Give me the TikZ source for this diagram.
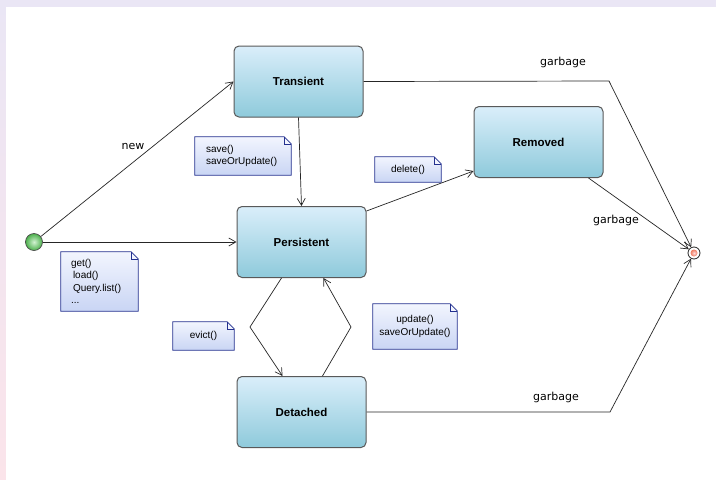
\documentclass[tikz,border=0pt]{standalone}
\usepackage{fontspec}
\setmainfont{Liberation Sans}
\newfontfamily\lblfont{DejaVu Sans}
\usepackage{tikz}
\usetikzlibrary{arrows.meta,positioning,backgrounds}

\definecolor{bgTop}{HTML}{EAE6F5}
\definecolor{bgBot}{HTML}{FBE4EA}
\definecolor{stTop}{HTML}{DAEEFA}
\definecolor{stBot}{HTML}{8ECADB}
\definecolor{noteTop}{HTML}{F2F5FE}
\definecolor{noteBot}{HTML}{C9D5F4}
\definecolor{noteBd}{HTML}{23308F}
\definecolor{startIn}{HTML}{D2F2D2}
\definecolor{startOut}{HTML}{4CB04C}
\definecolor{endRed}{HTML}{F07A5E}

% dog-eared outline of a note node
\newcommand{\dogear}[1]{%
  \shade[top color=noteTop, bottom color=noteBot] (#1.south west) -- (#1.north west)
    -- ([xshift=-7pt]#1.north east) -- ([yshift=-7pt]#1.north east) -- (#1.south east) -- cycle;
  \fill[noteTop] ([xshift=-7pt]#1.north east) -- ([yshift=-7pt]#1.north east) -| cycle;
  \draw[noteBd, line width=0.8pt] (#1.south west) -- (#1.north west)
    -- ([xshift=-7pt]#1.north east) -- ([yshift=-7pt]#1.north east) -- (#1.south east) -- cycle;
  \draw[noteBd, line width=0.6pt] ([xshift=-7pt]#1.north east) |- ([yshift=-7pt]#1.north east);}

\begin{document}
\begin{tikzpicture}[x=1pt, y=-1pt,
    state/.style={rectangle, rounded corners=5pt, draw=black!65, line width=1pt,
      top color=stTop, bottom color=stBot, minimum width=129pt, minimum height=71pt,
      font=\fontsize{11.5}{13}\selectfont\bfseries},
    note/.style={rectangle, inner ysep=3pt, font=\fontsize{10}{12.5}\selectfont},
    lbl/.style={font=\lblfont\fontsize{11}{13}\selectfont},
    arr/.style={-{Straight Barb[length=7pt,width=8pt]}, line width=0.7pt, black!85}]
    \useasboundingbox (0,0) rectangle (716,480);

    % States
    \node[state] (trans) at (298.5,81.5) {Transient};
    \node[state] (pers) at (301.5,242) {Persistent};
    \node[state] (rem) at (538.5,142) {Removed};
    \node[state] (det) at (301.5,412) {Detached};
    \node[circle, draw=black!70, line width=0.7pt, inner color=startIn, outer color=startOut, minimum size=17pt, inner sep=0pt] (start) at (34,242) {};
    \node[circle, draw=black!85, fill=white, line width=0.8pt, minimum size=12pt, inner sep=0pt] (end) at (694,253) {};
    \shade[inner color=red!15, outer color=endRed] (end.center) circle (3.5pt);

    % Notes
    \node[note, minimum width=96pt, minimum height=38pt, inner xsep=11pt, text width=74pt, align=left] (savenote) at (243,156) {save()\\saveOrUpdate()};
    \node[note, minimum width=66pt, minimum height=25pt, align=center] (delnote) at (408,169.5) {delete()};
    \node[note, minimum width=77pt, minimum height=59pt, inner xsep=10pt, text width=57pt, align=left] (getnote) at (99.5,281.5) {get()\\\hspace{2pt}load()\\\hspace{2pt}Query.list()\\...};
    \node[note, minimum width=61pt, minimum height=28pt, align=center] (evictnote) at (203.5,336) {evict()};
    \node[note, minimum width=84pt, minimum height=45pt, align=center] (updnote) at (415,326.5) {update()\\saveOrUpdate()};

    \begin{scope}[on background layer]
        \shade[top color=bgTop, bottom color=bgBot] (0,0) rectangle (716,480);
        \fill[white] (6,7) rectangle (716,480);
        \dogear{savenote}
        \dogear{delnote}
        \dogear{getnote}
        \dogear{evictnote}
        \dogear{updnote}
    \end{scope}

    % Transitions
    \coordinate (g1) at (609,81);
    \coordinate (g3) at (610,412);
    \coordinate (ev) at (250,327);
    \coordinate (up) at (351,327);
    \draw[arr] (start) -- (trans.west);
    \draw[arr] (start) -- (pers.west);
    \draw[arr] (trans.south) -- (pers.north);
    \draw[arr] ([yshift=-5pt]pers.north east) -- ([yshift=7pt]rem.south west);
    \draw[arr] (trans.east) -- (g1) -- (end);
    \draw[arr] ([xshift=-15pt]rem.south east) -- (end);
    \draw[arr] (det.east) -- (g3) -- (end);
    \draw[arr] ([xshift=-20pt]pers.south) -- (ev) -- ([xshift=-19pt]det.north);
    \draw[arr] ([xshift=21pt]det.north) -- (up) -- ([xshift=22pt]pers.south);

    % Labels
    \node[lbl] (lnew) at (133,146) {new};
    \node[lbl] (lg1) at (563,62) {garbage};
    \node[lbl] (lg2) at (616,220) {garbage};
    \node[lbl] (lg3) at (556,397) {garbage};
\end{tikzpicture}
\end{document}
